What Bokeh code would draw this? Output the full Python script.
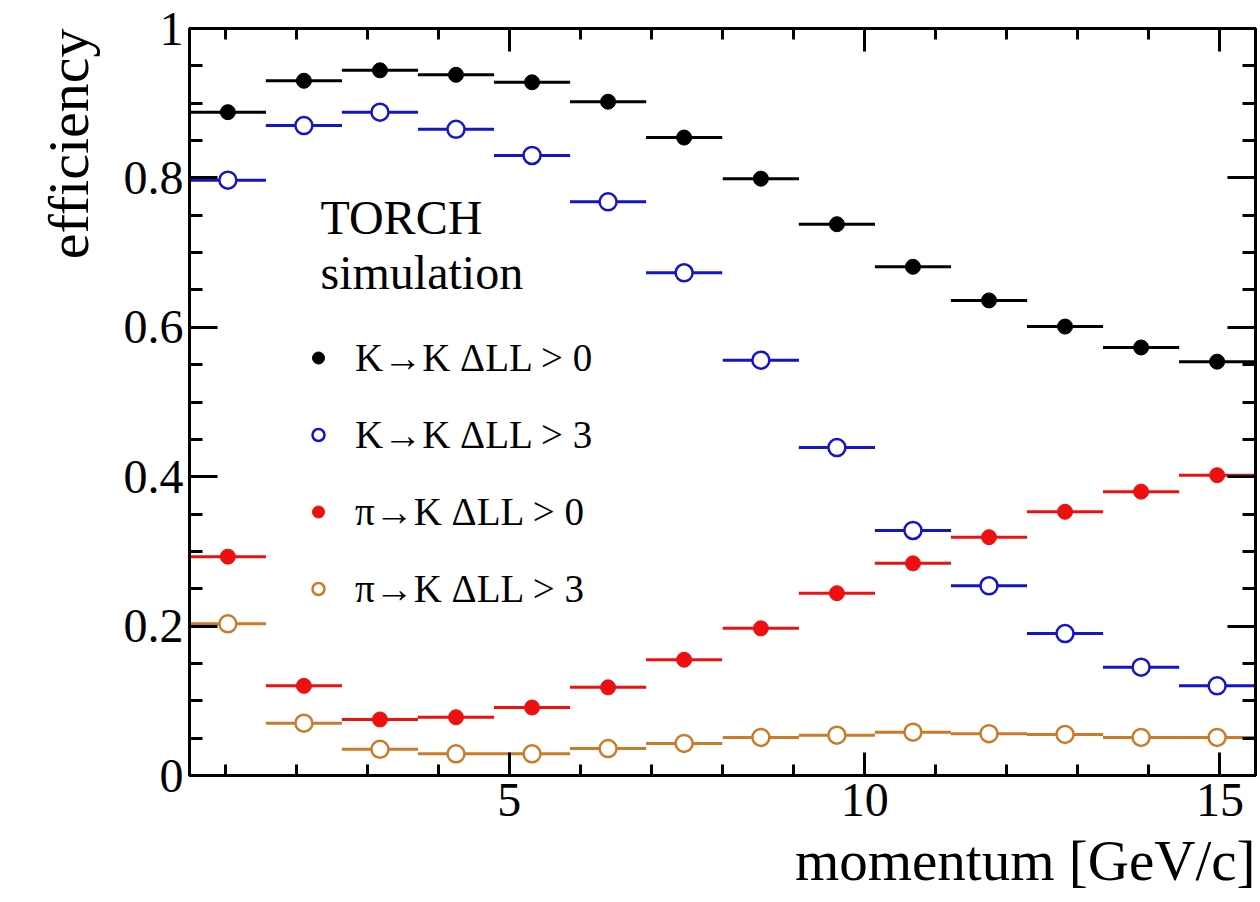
import math
from bokeh.plotting import figure
from bokeh.models import (Legend, LegendItem, Label, LinearAxis, FixedTicker,
                          Range1d, ColumnDataSource, Title)
from bokeh.embed import file_html
from bokeh.resources import INLINE

# ---- data ----
momentum_centers = [1.04, 2.11, 3.18, 4.25, 5.32, 6.39, 7.46, 8.54, 9.61,
                    10.68, 11.75, 12.82, 13.89, 14.96]
bin_half_width = 0.536

eff_K_K_0 = [0.888, 0.930, 0.944, 0.938, 0.928, 0.902, 0.854, 0.799, 0.738,
             0.681, 0.636, 0.601, 0.573, 0.554]
eff_K_K_3 = [0.797, 0.870, 0.888, 0.865, 0.830, 0.768, 0.673, 0.556, 0.439,
             0.328, 0.254, 0.190, 0.145, 0.120]
eff_pi_K_0 = [0.293, 0.120, 0.075, 0.078, 0.091, 0.118, 0.155, 0.197, 0.244,
              0.284, 0.319, 0.353, 0.380, 0.402]
eff_pi_K_3 = [0.203, 0.070, 0.035, 0.029, 0.029, 0.036, 0.043, 0.051, 0.054,
              0.058, 0.056, 0.055, 0.051, 0.051]

series_labels = ["K→K ΔLL > 0", "K→K ΔLL > 3", "π→K ΔLL > 0", "π→K ΔLL > 3"]

y_ticks = [0, 0.2, 0.4, 0.6, 0.8, 1]
y_tick_labels = ["0", "0.2", "0.4", "0.6", "0.8", "1"]
y_minor = [0.05 * i for i in range(21)]
x_ticks = [5, 10, 15]
x_minor = list(range(1, 16))

x_title = "momentum [GeV/c]"
y_title = "efficiency"

FONT = "Liberation Serif"

p = figure(width=1260, height=902, x_range=Range1d(0.5, 15.5),
           y_range=Range1d(0, 1), output_backend="svg", toolbar_location=None,
           min_border_left=189, min_border_right=5, min_border_top=28,
           min_border_bottom=127)
p.grid.visible = False
p.outline_line_color = "black"
p.outline_line_width = 3
p.background_fill_color = "white"
p.border_fill_color = "white"

def style_axis(ax, ticks, minor, major_len, minor_len, show_labels):
    ax.ticker = FixedTicker(ticks=ticks, minor_ticks=minor)
    ax.axis_line_width = 3
    ax.axis_line_color = "black"
    ax.major_tick_line_width = 3
    ax.minor_tick_line_width = 3
    ax.major_tick_in = major_len
    ax.major_tick_out = 0
    ax.minor_tick_in = minor_len
    ax.minor_tick_out = 0
    if show_labels:
        ax.major_label_text_font = FONT
        ax.major_label_text_font_size = "48px"
        ax.major_label_text_color = "black"
    else:
        ax.major_label_text_font_size = "0px"
        ax.major_label_standoff = 0

xa = p.xaxis[0]
style_axis(xa, x_ticks, x_minor, 23, 11, True)
xa.major_label_standoff = 8
ya = p.yaxis[0]
style_axis(ya, y_ticks, y_minor, 28, 13, True)
ya.major_label_standoff = 6
ya.major_label_overrides = {t: s for t, s in zip(y_ticks, y_tick_labels)}

top_ax = LinearAxis()
style_axis(top_ax, x_ticks, x_minor, 23, 11, False)
p.add_layout(top_ax, "above")
right_ax = LinearAxis()
style_axis(right_ax, y_ticks, y_minor, 28, 13, False)
p.add_layout(right_ax, "right")

colors = ["black", "#1414c8", "#ee1010", "#cc7a28"]
filled = [True, False, True, False]
values = [eff_K_K_0, eff_K_K_3, eff_pi_K_0, eff_pi_K_3]

legend_items = []
for vals, col, fill, lab in zip(values, colors, filled, series_labels):
    src = ColumnDataSource(dict(
        x=momentum_centers,
        x0=[c - bin_half_width for c in momentum_centers],
        x1=[c + bin_half_width for c in momentum_centers],
        y=vals))
    p.segment(x0="x0", y0="y", x1="x1", y1="y", source=src, line_color=col,
              line_width=3)
    if fill:
        r = p.scatter(x="x", y="y", source=src, marker="circle", size=15,
                      fill_color=col, line_color=col, line_width=1)
    else:
        r = p.scatter(x="x", y="y", source=src, marker="circle", size=17,
                      fill_color="white", line_color=col, line_width=2.5)
    legend_items.append(LegendItem(label=lab, renderers=[r]))

legend = Legend(items=legend_items, location=(114, 148), orientation="vertical",
                glyph_width=30, glyph_height=77, label_height=77, spacing=0,
                padding=0, margin=0, border_line_color=None,
                background_fill_alpha=0, label_text_font=FONT,
                label_text_font_size="39px", label_standoff=22,
                label_text_color="black", label_text_baseline="middle")
p.add_layout(legend)

p.add_layout(Label(x=131, y=558, x_units="screen", y_units="screen",
                   text="TORCH", text_font=FONT, text_font_size="48px",
                   text_baseline="alphabetic", text_color="black"))
p.add_layout(Label(x=131, y=503, x_units="screen", y_units="screen",
                   text="simulation", text_font=FONT, text_font_size="48px",
                   text_baseline="alphabetic", text_color="black"))

# axis titles as side titles, aligned to the frame ends
has_standoff = "standoff" in Title.properties()

yt_kw = dict(text=y_title, align="right", text_font=FONT,
             text_font_size="58px", text_font_style="normal",
             text_color="black")
if has_standoff:
    yt_kw["standoff"] = 40
p.add_layout(Title(**yt_kw), "left")

xt_kw = dict(text=x_title, align="right", text_font=FONT,
             text_font_size="57px", text_font_style="normal",
             text_color="black")
if has_standoff:
    xt_kw["standoff"] = 16
p.add_layout(Title(**xt_kw), "below")

open("out.html", "w").write(file_html(p, INLINE))
